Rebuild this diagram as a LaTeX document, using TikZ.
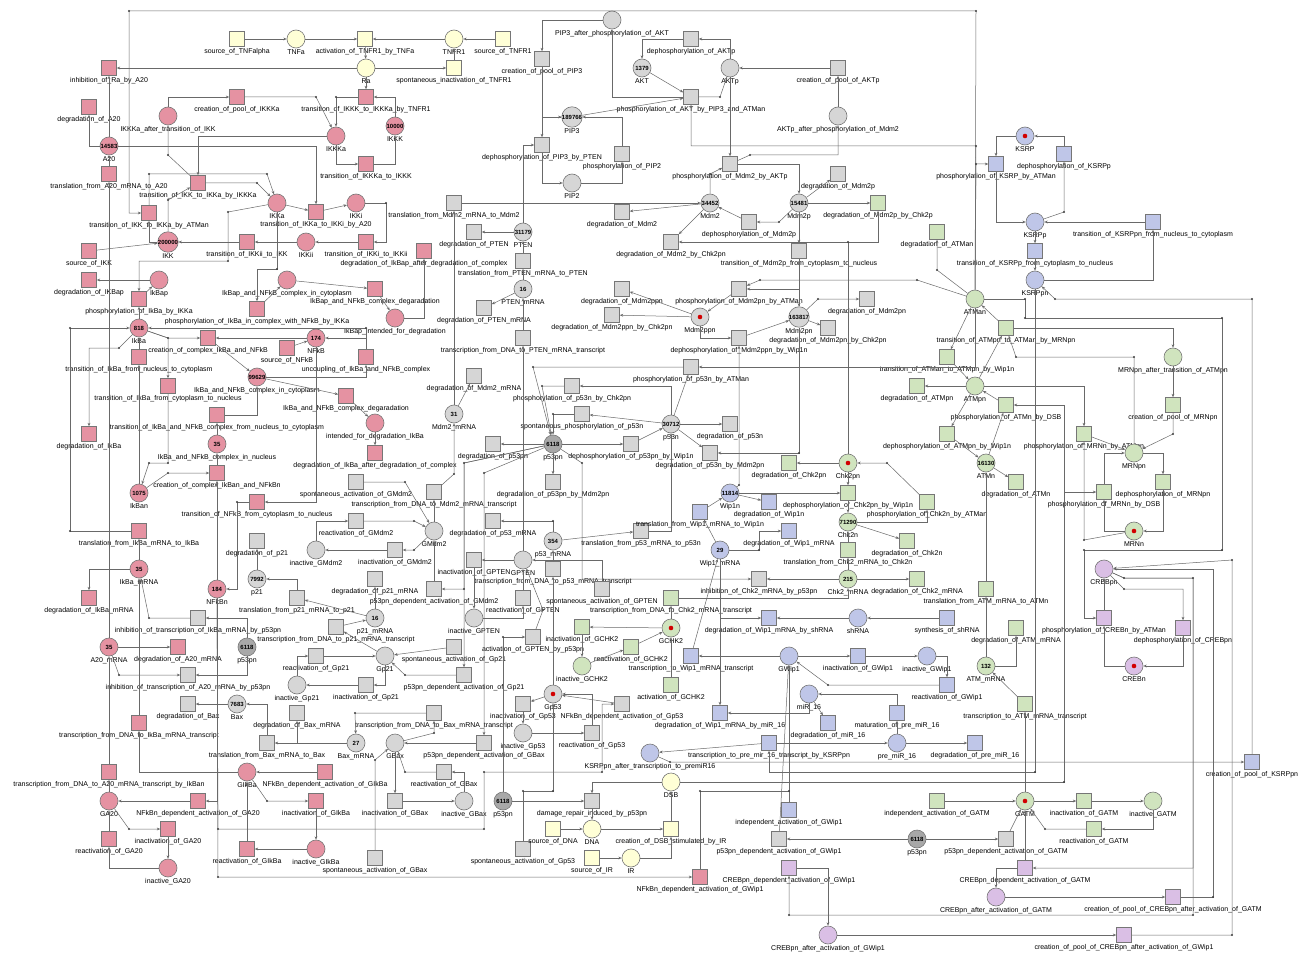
\documentclass[tikz,border=0pt]{standalone}
\usepackage{fontspec}
\setmainfont{Liberation Sans}
\usetikzlibrary{arrows.meta}
\definecolor{pinkf}{RGB}{229,146,162}
\definecolor{greyf}{RGB}{214,214,214}
\definecolor{darkf}{RGB}{168,168,168}
\definecolor{yelf}{RGB}{255,255,214}
\definecolor{greenf}{RGB}{208,228,190}
\definecolor{bluef}{RGB}{191,198,232}
\definecolor{purf}{RGB}{218,191,229}
\definecolor{edgec}{RGB}{118,118,118}
\definecolor{arcc}{RGB}{105,105,105}
\definecolor{tokred}{RGB}{210,0,0}
\newcommand{\mkplace}[6]{\node[place,fill=#4,label={[lbl]below:#5}] (#1) at (#2,#3) {#6};}
\newcommand{\mktrans}[5]{\node[trans,fill=#4,label={[lbl]below:#5}] (#1) at (#2,#3) {};}
\begin{document}
\catcode`\_=12
\begin{tikzpicture}[x=1pt,y=-1pt,
  place/.style={circle,draw=edgec,line width=0.6pt,minimum size=18pt,inner sep=0pt,font=\fontsize{6}{6}\selectfont\bfseries},
  trans/.style={rectangle,draw=edgec,line width=0.6pt,minimum size=15pt,inner sep=0pt},
  lbl/.style={font=\fontsize{7}{7}\selectfont,inner sep=1pt,text=black},
  arc/.style={draw=arcc,line width=0.5pt,-{Stealth[length=3.4pt,width=2.8pt]}}]
\useasboundingbox (0,0) rectangle (1310,955);
\fill[white] (0,0) rectangle (1310,955);

% TNF
\mktrans{srcTNF}{237}{39}{yelf}{source_of_TNFalpha}
\mkplace{TNFa}{296}{39}{yelf}{TNFa}{}
\mktrans{actTNFR}{365}{39}{yelf}{activation_of_TNFR1_by_TNFa}
\mkplace{TNFR}{454}{39}{yelf}{TNFR1}{}
\mktrans{srcTNFR}{503}{39}{yelf}{source_of_TNFR1}
\mkplace{Ra}{366}{68}{yelf}{Ra}{}
\mktrans{spinTNFR}{454}{68}{yelf}{spontaneous_inactivation_of_TNFR1}

% NFkB module
\mktrans{inhRa}{109}{68}{pinkf}{inhibition_of_Ra_by_A20}
\mktrans{degAtw}{89}{107}{pinkf}{degradation_of_A20}
\mkplace{IKKKaaft}{168}{116}{pinkf}{IKKKa_after_transition_of_IKK}{}
\mktrans{crIKKKa}{237}{97}{pinkf}{creation_of_pool_of_IKKKa}
\mktrans{trIKKK}{366}{97}{pinkf}{transition_of_IKKK_to_IKKKa_by_TNFR1}
\mkplace{IKKKa}{336}{136}{pinkf}{IKKKa}{}
\mkplace{IKKK}{395}{126}{pinkf}{IKKK}{10000}
\mktrans{trIKKKaK}{366}{164}{pinkf}{transition_of_IKKKa_to_IKKK}
\mkplace{Atw}{109}{146}{pinkf}{A20}{14583}
\mktrans{trlAtw}{109}{174}{pinkf}{translation_from_A20_mRNA_to_A20}
\mktrans{trIKKa}{198}{183}{pinkf}{transition_of_IKK_to_IKKa_by_IKKKa}
\mkplace{IKKa}{277}{203}{pinkf}{IKKa}{}
\mktrans{trATM}{149}{213}{pinkf}{transition_of_IKK_to_IKKa_by_ATMan}
\mktrans{trIKKi}{316}{212}{pinkf}{transition_of_IKKa_to_IKKi_by_A20}
\mkplace{IKKi}{356}{203}{pinkf}{IKKi}{}
\mkplace{IKK}{168}{242}{pinkf}{IKK}{200000}
\mktrans{trIKKii}{247}{242}{pinkf}{transition_of_IKKii_to_IKK}
\mkplace{IKKii}{306}{242}{pinkf}{IKKii}{}
\mktrans{trIKKiii}{366}{242}{pinkf}{transition_of_IKKi_to_IKKii}
\mktrans{srcIKK}{89}{251}{pinkf}{source_of_IKK}
\mktrans{degIkBapc}{424}{251}{pinkf}{degradation_of_IkBap_after_degradation_of_complex}
\mktrans{degIkBap}{89}{280}{pinkf}{degradation_of_IKBap}
\mkplace{IkBap}{159}{280}{pinkf}{IkBap}{}
\mktrans{phIkBa}{139}{299}{pinkf}{phosphorylation_of_IkBa_by_IKKa}
\mkplace{cxcytp}{287}{280}{pinkf}{IkBap_and_NFkB_complex_in_cytoplasm}{}
\mktrans{cxdeg}{375}{289}{pinkf}{IkBap_and_NFkB_complex_degaradation}
\mktrans{phIkBacx}{257}{309}{pinkf}{phosphorylation_of_IkBa_in_complex_with_NFkB_by_IKKa}
\mkplace{IkBapint}{395}{318}{pinkf}{IkBap_intended_for_degradation}{}
\mkplace{IkBa}{139}{328}{pinkf}{IkBa}{818}
\mktrans{crcx}{208}{338}{pinkf}{creation_of_complex_IkBa_and_NFkB}
\mkplace{NFkB}{316}{338}{pinkf}{NFkB}{174}
\mktrans{srcNFkB}{287}{348}{pinkf}{source_of_NFkB}
\mktrans{trIkBanc}{139}{357}{pinkf}{transition_of_IkBa_from_nucleus_to_cytoplasm}
\mktrans{uncpl}{366}{357}{pinkf}{uncoupling_of_IkBa_and_NFkB_complex}
\mkplace{cxcyt}{257}{377}{pinkf}{IkBa_and_NFkB_complex_in_cytoplasm}{99629}
\mktrans{trIkBacn}{168}{386}{pinkf}{transition_of_IkBa_from_cytoplasm_to_nucleus}
\mktrans{cxdegb}{346}{396}{pinkf}{IkBa_and_NFkB_complex_degaradation}
\mktrans{trcxnc}{217}{415}{pinkf}{transition_of_IkBa_and_NFkB_complex_from_nucleus_to_cytoplasm}
\mkplace{intIkBa}{375}{423}{pinkf}{intended_for_degradation_IkBa}{}
\mktrans{degIkBa}{89}{434}{pinkf}{degradation_of_IkBa}
\mkplace{cxnuc}{217}{444}{pinkf}{IkBa_and_NFkB_complex_in_nucleus}{35}
\mktrans{degIkBac}{375}{453}{pinkf}{degradation_of_IkBa_after_degradation_of_complex}
\mktrans{crcxn}{217}{473}{pinkf}{creation_of_complex_IkBan_and_NFkBn}
\mkplace{IkBan}{139}{493}{pinkf}{IkBan}{1075}
\mktrans{trNFkB}{257}{502}{pinkf}{transition_of_NFkB_from_cytoplasm_to_nucleus}
\mktrans{trlIkBa}{139}{531}{pinkf}{translation_from_IkBa_mRNA_to_IkBa}
\mkplace{IkBam}{139}{569}{pinkf}{IkBa_mRNA}{35}
\mkplace{NFkBn}{217}{589}{pinkf}{NFkBn}{184}
\mktrans{degIkBam}{89}{598}{pinkf}{degradation_of_IkBa_mRNA}
\mkplace{Atwm}{109}{647}{pinkf}{A20_mRNA}{35}
\mktrans{degAtwm}{178}{647}{pinkf}{degradation_of_A20_mRNA}
\mktrans{tscIkBa}{139}{723}{pinkf}{transcription_from_DNA_to_IkBa_mRNA_transcript}
\mktrans{tscAtw}{109}{772}{pinkf}{transcription_from_DNA_to_A20_mRNA_transcript_by_IkBan}
\mkplace{GIkBa}{247}{772}{pinkf}{GIkBa}{}
\mktrans{ndGIkBa}{325}{772}{pinkf}{NFkBn_dependent_activation_of_GIkBa}
\mkplace{GAtw}{109}{801}{pinkf}{GA20}{}
\mktrans{ndGAtw}{198}{801}{pinkf}{NFkBn_dependent_activation_of_GA20}
\mktrans{inGIkBa}{316}{801}{pinkf}{inactivation_of_GIkBa}
\mktrans{inGAtw}{168}{829}{pinkf}{inactivation_of_GA20}
\mktrans{reGAtw}{109}{839}{pinkf}{reactivation_of_GA20}
\mktrans{reGIkBa}{247}{849}{pinkf}{reactivation_of_GIkBa}
\mkplace{iaGIkBa}{316}{849}{pinkf}{inactive_GIkBa}{}
\mkplace{iaGAtw}{168}{868}{pinkf}{inactive_GA20}{}
\mktrans{ndGWip}{700}{877}{pinkf}{NFkBn_dependent_activation_of_GWip1}

% p53 / Mdm2 / AKT module
\mkplace{PIPaft}{612}{20}{greyf}{PIP3_after_phosphorylation_of_AKT}{}
\mktrans{crPIP}{542}{59}{greyf}{creation_of_pool_of_PIP3}
\mkplace{AKT}{642}{68}{greyf}{AKT}{1379}
\mkplace{PIPthree}{572}{117}{greyf}{PIP3}{189766}
\mktrans{dphPIP}{542}{145}{greyf}{dephosphorylation_of_PIP3_by_PTEN}
\mktrans{phPIP}{622}{154}{greyf}{phosphorylation_of_PIP2}
\mkplace{PIPtwo}{572}{183}{greyf}{PIP2}{}
\mktrans{trlMdm}{454}{203}{greyf}{translation_from_Mdm2_mRNA_to_Mdm2}
\mktrans{degMdm}{622}{212}{greyf}{degradation_of_Mdm2}
\mktrans{degPTEN}{474}{232}{greyf}{degradation_of_PTEN}
\mkplace{PTEN}{523}{232}{greyf}{PTEN}{31179}
\mktrans{trlPTEN}{523}{261}{greyf}{translation_from_PTEN_mRNA_to_PTEN}
\mkplace{PTENm}{523}{289}{greyf}{PTEN_mRNA}{16}
\mktrans{degPTENm}{484}{308}{greyf}{degradation_of_PTEN_mRNA}
\mktrans{degMdmppn}{622}{289}{greyf}{degradation_of_Mdm2ppn}
\mktrans{degMdmppnC}{612}{315}{greyf}{degradation_of_Mdm2ppn_by_Chk2pn}
\mktrans{dphAKTp}{691}{39}{greyf}{dephosphorylation_of_AKTp}
\mkplace{AKTp}{730}{68}{greyf}{AKTp}{}
\mktrans{crAKTp}{838}{68}{greyf}{creation_of_pool_of_AKTp}
\mktrans{phAKT}{691}{97}{greyf}{phosphorylation_of_AKT_by_PIP3_and_ATMan}
\mkplace{AKTpaft}{838}{116}{greyf}{AKTp_after_phosphorylation_of_Mdm2}{}
\mktrans{phMdm}{730}{164}{greyf}{phosphorylation_of_Mdm2_by_AKTp}
\mktrans{degMdmp}{838}{174}{greyf}{degradation_of_Mdm2p}
\mkplace{Mdm}{710}{203}{greyf}{Mdm2}{34452}
\mkplace{Mdmp}{799}{203}{greyf}{Mdm2p}{15481}
\mktrans{dphMdmp}{749}{222}{greyf}{dephosphorylation_of_Mdm2p}
\mktrans{degMdmC}{671}{242}{greyf}{degradation_of_Mdm2_by_Chk2pn}
\mktrans{trMdmp}{799}{251}{greyf}{transition_of_Mdm2p_from_cytoplasm_to_nucleus}
\mktrans{phMdmpn}{739}{289}{greyf}{phosphorylation_of_Mdm2pn_by_ATMan}
\mktrans{degMdmpn}{867}{299}{greyf}{degradation_of_Mdm2pn}
\mkplace{Mdmppn}{700}{317}{greyf}{Mdm2ppn}{}
\mkplace{Mdmpn}{799}{317}{greyf}{Mdm2pn}{163817}
\mktrans{degMdmpnC}{828}{328}{greyf}{degradation_of_Mdm2pn_by_Chk2pn}
\mktrans{dphMdmppn}{739}{338}{greyf}{dephosphorylation_of_Mdm2ppn_by_Wip1n}
\mktrans{tscPTEN}{523}{338}{greyf}{transcription_from_DNA_to_PTEN_mRNA_transcript}
\mktrans{phpA}{691}{367}{greyf}{phosphorylation_of_p53n_by_ATMan}
\mktrans{degMdmm}{474}{376}{greyf}{degradation_of_Mdm2_mRNA}
\mktrans{phpC}{572}{386}{greyf}{phosphorylation_of_p53n_by_Chk2pn}
\mkplace{Mdmm}{454}{414}{greyf}{Mdm2_mRNA}{31}
\mktrans{spphp}{582}{414}{greyf}{spontaneous_phosphorylation_of_p53n}
\mkplace{pn}{671}{424}{greyf}{p53n}{30712}
\mktrans{degpn}{730}{424}{greyf}{degradation_of_p53n}
\mktrans{degppn}{493}{444}{greyf}{degradation_of_p53pn}
\mkplace{ppn}{553}{444}{darkf}{p53pn}{6118}
\mktrans{dphppn}{631}{444}{greyf}{dephosphorylation_of_p53pn_by_Wip1n}
\mktrans{degpnM}{710}{453}{greyf}{degradation_of_p53n_by_Mdm2pn}
\mktrans{spGMdm}{356}{482}{greyf}{spontaneous_activation_of_GMdm2}
\mktrans{tscMdm}{434}{492}{greyf}{transcription_from_DNA_to_Mdm2_mRNA_transcript}
\mktrans{degppnM}{553}{482}{greyf}{degradation_of_p53pn_by_Mdm2pn}
\mktrans{reGMdm}{356}{521}{greyf}{reactivation_of_GMdm2}
\mkplace{GMdm}{434}{531}{greyf}{GMdm2}{}
\mktrans{degpm}{493}{521}{greyf}{degradation_of_p53_mRNA}
\mktrans{trlp}{641}{531}{greyf}{translation_from_p53_mRNA_to_p53n}
\mktrans{degptw}{257}{541}{greyf}{degradation_of_p21}
\mkplace{pm}{553}{541}{greyf}{p53_mRNA}{354}
\mkplace{iaGMdm}{316}{550}{greyf}{inactive_GMdm2}{}
\mktrans{inGMdm}{395}{550}{greyf}{inactivation_of_GMdm2}
\mktrans{inGPTEN}{474}{560}{greyf}{inactivation_of_GPTEN}
\mkplace{GPTEN}{523}{560}{greyf}{GPTEN}{}
\mktrans{tscp}{553}{569}{greyf}{transcription_from_DNA_to_p53_mRNA_transcript}
\mkplace{ptw}{257}{579}{greyf}{p21}{7992}
\mktrans{degptwm}{375}{579}{greyf}{degradation_of_p21_mRNA}
\mktrans{pdGMdm}{434}{589}{greyf}{p53pn_dependent_activation_of_GMdm2}
\mktrans{spGPTEN}{602}{589}{greyf}{spontaneous_activation_of_GPTEN}
\mktrans{trlptw}{297}{598}{greyf}{translation_from_p21_mRNA_to_p21}
\mktrans{reGPTEN}{523}{598}{greyf}{reactivation_of_GPTEN}
\mktrans{inhIkBa}{198}{618}{greyf}{inhibition_of_transcription_of_IkBa_mRNA_by_p53pn}
\mkplace{ptwm}{375}{618}{greyf}{p21_mRNA}{16}
\mkplace{iaGPTEN}{474}{618}{greyf}{inactive_GPTEN}{}
\mktrans{tscptw}{336}{627}{greyf}{transcription_from_DNA_to_p21_mRNA_transcript}
\mktrans{acGPTEN}{533}{637}{greyf}{activation_of_GPTEN_by_p53pn}
\mkplace{ppnA}{247}{647}{darkf}{p53pn}{6118}
\mktrans{spGptw}{454}{647}{greyf}{spontaneous_activation_of_Gp21}
\mktrans{reGptw}{316}{656}{greyf}{reactivation_of_Gp21}
\mkplace{Gptw}{385}{656}{greyf}{Gp21}{}
\mktrans{inhAtw}{188}{675}{greyf}{inhibition_of_transcription_of_A20_mRNA_by_p53pn}
\mktrans{pdGptw}{464}{675}{greyf}{p53pn_dependent_activation_of_Gp21}
\mkplace{iaGptw}{297}{685}{greyf}{inactive_Gp21}{}
\mktrans{inGptw}{366}{685}{greyf}{inactivation_of_Gp21}
\mkplace{Gp}{553}{694}{greyf}{Gp53}{}
\mktrans{degBax}{188}{704}{greyf}{degradation_of_Bax}
\mkplace{Bax}{237}{704}{greyf}{Bax}{7683}
\mktrans{inGp}{523}{704}{greyf}{inactivation_of_Gp53}
\mktrans{ndGp}{622}{704}{greyf}{NFkBn_dependent_activation_of_Gp53}
\mktrans{degBaxm}{297}{713}{greyf}{degradation_of_Bax_mRNA}
\mktrans{tscBax}{434}{713}{greyf}{transcription_from_DNA_to_Bax_mRNA_transcript}
\mkplace{iaGp}{523}{733}{greyf}{inactive_Gp53}{}
\mktrans{reGp}{592}{733}{greyf}{reactivation_of_Gp53}
\mktrans{trlBax}{267}{743}{greyf}{translation_from_Bax_mRNA_to_Bax}
\mkplace{Baxm}{356}{743}{greyf}{Bax_mRNA}{27}
\mkplace{GBax}{395}{743}{greyf}{GBax}{}
\mktrans{pdGBax}{484}{743}{greyf}{p53pn_dependent_activation_of_GBax}
\mktrans{reGBax}{444}{772}{greyf}{reactivation_of_GBax}
\mktrans{inGBax}{395}{801}{greyf}{inactivation_of_GBax}
\mkplace{iaGBax}{464}{801}{greyf}{inactive_GBax}{}
\mkplace{ppnB}{503}{801}{darkf}{p53pn}{6118}
\mktrans{dmgrep}{592}{801}{greyf}{damage_repair_induced_by_p53pn}
\mktrans{spGp}{523}{849}{greyf}{spontaneous_activation_of_Gp53}
\mktrans{spGBax}{375}{858}{greyf}{spontaneous_activation_of_GBax}
\mktrans{pdGWip}{779}{839}{greyf}{p53pn_dependent_activation_of_GWip1}
\mkplace{ppnC}{917}{839}{darkf}{p53pn}{6118}
\mktrans{pdGATM}{1006}{839}{greyf}{p53pn_dependent_activation_of_GATM}
\mktrans{inhChk}{759}{579}{greyf}{inhibition_of_Chk2_mRNA_by_p53pn}

% DNA damage
\mktrans{srcDNA}{553}{829}{yelf}{source_of_DNA}
\mkplace{DNA}{592}{829}{yelf}{DNA}{}
\mktrans{srcIR}{592}{858}{yelf}{source_of_IR}
\mkplace{IR}{631}{858}{yelf}{IR}{}
\mkplace{DSB}{671}{782}{yelf}{DSB}{}
\mktrans{crDSB}{671}{829}{yelf}{creation_of_DSB_stimulated_by_IR}

% ATM / Chk2 / MRN
\mktrans{degATMan}{937}{232}{greenf}{degradation_of_ATMan}
\mkplace{ATMan}{975}{299}{greenf}{ATMan}{}
\mktrans{degMdmpC}{878}{203}{greenf}{degradation_of_Mdm2p_by_Chk2p}
\mktrans{trATMpn}{1006}{328}{greenf}{transition_of_ATMpn_to_ATMan_by_MRNpn}
\mktrans{trATMan}{947}{357}{greenf}{transition_of_ATMan_to_ATMpn_by_Wip1n}
\mkplace{MRNaft}{1173}{357}{greenf}{MRNpn_after_transition_of_ATMpn}{}
\mktrans{degATMpn}{917}{386}{greenf}{degradation_of_ATMpn}
\mkplace{ATMpn}{975}{386}{greenf}{ATMpn}{}
\mktrans{phATMn}{1006}{405}{greenf}{phosphorylation_of_ATMn_by_DSB}
\mktrans{crMRN}{1173}{405}{greenf}{creation_of_pool_of_MRNpn}
\mktrans{dphATMpn}{947}{434}{greenf}{dephosphorylation_of_ATMpn_by_Wip1n}
\mktrans{phMRNA}{1084}{434}{greenf}{phosphorylation_of_MRNn_by_ATMpn}
\mkplace{MRNpn}{1134}{453}{greenf}{MRNpn}{}
\mktrans{degChkpn}{789}{463}{greenf}{degradation_of_Chk2pn}
\mkplace{Chkpn}{848}{463}{greenf}{Chk2pn}{}
\mkplace{ATMn}{986}{463}{greenf}{ATMn}{16130}
\mktrans{degATMn}{1016}{482}{greenf}{degradation_of_ATMn}
\mktrans{dphMRN}{1163}{482}{greenf}{dephosphorylation_of_MRNpn}
\mktrans{dphChkpn}{848}{493}{greenf}{dephosphorylation_of_Chk2pn_by_Wip1n}
\mktrans{phMRND}{1104}{492}{greenf}{phosphorylation_of_MRNn_by_DSB}
\mktrans{phChkn}{927}{502}{greenf}{phosphorylation_of_Chk2n_by_ATMan}
\mkplace{Chkn}{848}{522}{greenf}{Chk2n}{71290}
\mkplace{MRNn}{1134}{531}{greenf}{MRNn}{}
\mktrans{degChkn}{907}{541}{greenf}{degradation_of_Chk2n}
\mktrans{trlChk}{848}{550}{greenf}{translation_from_Chk2_mRNA_to_Chk2n}
\mkplace{Chkm}{848}{579}{greenf}{Chk2_mRNA}{215}
\mktrans{degChkm}{917}{579}{greenf}{degradation_of_Chk2_mRNA}
\mktrans{trlATM}{986}{589}{greenf}{translation_from_ATM_mRNA_to_ATMn}
\mktrans{tscChk}{671}{598}{greenf}{transcription_from_DNA_to_Chk2_mRNA_transcript}
\mktrans{inGCHK}{582}{627}{greenf}{inactivation_of_GCHK2}
\mktrans{degATMm}{1016}{628}{greenf}{degradation_of_ATM_mRNA}
\mkplace{GCHK}{671}{628}{greenf}{GCHK2}{}
\mktrans{reGCHK}{631}{647}{greenf}{reactivation_of_GCHK2}
\mkplace{iaGCHK}{582}{666}{greenf}{inactive_GCHK2}{}
\mkplace{ATMm}{986}{666}{greenf}{ATM_mRNA}{132}
\mktrans{acGCHK}{671}{685}{greenf}{activation_of_GCHK2}
\mktrans{tscATM}{1025}{704}{greenf}{transcription_to_ATM_mRNA_transcript}
\mktrans{indGATM}{937}{801}{greenf}{independent_activation_of_GATM}
\mkplace{GATM}{1025}{801}{greenf}{GATM}{}
\mktrans{inGATM}{1084}{801}{greenf}{inactivation_of_GATM}
\mkplace{iaGATM}{1153}{801}{greenf}{inactive_GATM}{}
\mktrans{reGATM}{1094}{829}{greenf}{reactivation_of_GATM}

% KSRP / Wip1 / miR-16
\mkplace{KSRP}{1025}{136}{bluef}{KSRP}{}
\mktrans{dphKSRPp}{1064}{154}{bluef}{dephosphorylation_of_KSRPp}
\mktrans{phKSRP}{996}{164}{bluef}{phosphorylation_of_KSRP_by_ATMan}
\mkplace{KSRPp}{1035}{222}{bluef}{KSRPp}{}
\mktrans{trKSRPpn}{1153}{222}{bluef}{transition_of_KSRPpn_from_nucleus_to_cytoplasm}
\mktrans{trKSRPp}{1035}{251}{bluef}{transition_of_KSRPp_from_cytoplasm_to_nucleus}
\mkplace{KSRPpn}{1035}{280}{bluef}{KSRPpn}{}
\mkplace{Wipn}{730}{493}{bluef}{Wip1n}{11814}
\mktrans{degWipn}{769}{502}{bluef}{degradation_of_Wip1n}
\mktrans{trlWip}{700}{512}{bluef}{translation_from_Wip1_mRNA_to_Wip1n}
\mktrans{degWipm}{789}{531}{bluef}{degradation_of_Wip1_mRNA}
\mkplace{Wipm}{720}{550}{bluef}{Wip1_mRNA}{29}
\mktrans{degWsh}{769}{618}{bluef}{degradation_of_Wip1_mRNA_by_shRNA}
\mkplace{shRNA}{858}{618}{bluef}{shRNA}{}
\mktrans{synsh}{947}{618}{bluef}{synthesis_of_shRNA}
\mktrans{tscWip}{691}{656}{bluef}{transcription_to_Wip1_mRNA_transcript}
\mkplace{GWip}{789}{656}{bluef}{GWip1}{}
\mktrans{inGWip}{858}{656}{bluef}{inactivation_of_GWip1}
\mkplace{iaGWip}{927}{656}{bluef}{inactive_GWip1}{}
\mktrans{reGWip}{947}{685}{bluef}{reactivation_of_GWip1}
\mkplace{miR}{809}{694}{bluef}{miR_16}{}
\mktrans{degWmiR}{720}{713}{bluef}{degradation_of_Wip1_mRNA_by_miR_16}
\mktrans{matmiR}{897}{713}{bluef}{maturation_of_pre_miR_16}
\mktrans{degmiR}{828}{723}{bluef}{degradation_of_miR_16}
\mktrans{tscpre}{769}{743}{bluef}{transcription_to_pre_mir_16_transcript_by_KSRPpn}
\mkplace{premiR}{897}{743}{bluef}{pre_miR_16}{}
\mktrans{degpre}{975}{743}{bluef}{degradation_of_pre_miR_16}
\mkplace{KSRPaft}{650}{753}{bluef}{KSRPpn_after_transcription_to_premiR16}{}
\mktrans{crKSRPpn}{1252}{762}{bluef}{creation_of_pool_of_KSRPpn}
\mktrans{indGWip}{789}{810}{bluef}{independent_activation_of_GWip1}

% CREB
\mkplace{CREBpn}{1104}{569}{purf}{CREBpn}{}
\mktrans{phCREBn}{1104}{618}{purf}{phosphorylation_of_CREBn_by_ATMan}
\mktrans{dphCREBpn}{1183}{628}{purf}{dephosphorylation_of_CREBpn}
\mkplace{CREBn}{1134}{666}{purf}{CREBn}{}
\mktrans{cdGWip}{789}{868}{purf}{CREBpn_dependent_activation_of_GWip1}
\mktrans{cdGATM}{1025}{868}{purf}{CREBpn_dependent_activation_of_GATM}
\mkplace{CREBaftA}{996}{897}{purf}{CREBpn_after_activation_of_GATM}{}
\mktrans{crCREBA}{1173}{897}{purf}{creation_of_pool_of_CREBpn_after_activation_of_GATM}
\mkplace{CREBaftW}{828}{935}{purf}{CREBpn_after_activation_of_GWip1}{}
\mktrans{crCREBW}{1124}{935}{purf}{creation_of_pool_of_CREBpn_after_activation_of_GWip1}

\foreach \n in {KSRP,Mdmppn,Chkpn,MRNn,GCHK,Gp,CREBn,GATM}
  \fill[tokred] (\n) circle (2.3pt);

% arcs: TNF and IKK
\draw[arc] (srcTNF) -- (TNFa);
\draw[arc] (TNFa) -- (actTNFR);
\draw[arc] (TNFR) -- (actTNFR);
\draw[arc] (srcTNFR) -- (TNFR);
\draw[arc] (actTNFR) -- (Ra);
\draw[arc] (Ra) -- (spinTNFR);
\draw[arc] (spinTNFR) -- (TNFR);
\draw[arc] (Ra) -- (inhRa);
\draw[arc] (Ra) -- (trIKKK);
\draw[arc] (Atw) -- (inhRa);
\draw[arc] (Atw) -| (degAtw);
\draw[arc] (trlAtw) -- (Atw);
\draw[arc] (Atw) -| (trIKKi);
\draw[arc] (IKKKaaft) |- (crIKKKa);
\draw[arc] (crIKKKa) -- (316,97) -- (IKKKa);
\draw[arc] (trIKKa) -- (168,155) -- (IKKKaaft);
\draw[arc] (IKKKa) -| (trIKKa);
\draw[arc] (trIKKa) -- (257,183) -- (IKKa);
\draw[arc] (IKK) -- (168,200) -- (trIKKa);
\draw[arc] (trATM) -- (149,174) -- (267,174) -- (IKKa);
\draw[arc] (IKK) -| (trATM);
\draw[arc] (srcIKK) -- (IKK);
\draw[arc] (trIKKii) -- (IKK);
\draw[arc] (IKKii) -- (trIKKii);
\draw[arc] (IKKa) -- (trIKKi);
\draw[arc] (trIKKi) -- (IKKi);
\draw[arc] (IKKi) -- (386,203) |- (trIKKiii);
\draw[arc] (trIKKiii) -- (IKKii);
\draw[arc] (IKKa) -- (228,212) -- (228,261) -| (phIkBa);
\draw[arc] (IKKa) -- (277,269) -| (phIkBacx);
\draw[arc] (phIkBacx) -- (cxcytp);
\draw[arc] (IkBap) -- (degIkBap);
\draw[arc] (phIkBa) -- (IkBap);
\draw[arc] (IkBa) -- (phIkBa);
\draw[arc] (trIKKK) -- (336,97) -- (IKKKa);
\draw[arc] (IKKK) |- (trIKKK);
\draw[arc] (IKKKa) |- (trIKKKaK);
\draw[arc] (trIKKKaK) -| (IKKK);
\draw[arc] (ATMan) -- (976,11) -- (129,11) |- (trATM);
\draw[arc] (ATMan) -- (976,146) -| (phAKT);
\draw[arc] (ATMan) -- (976,164) -- (phKSRP);

% arcs: IkBa and NFkB
\draw[arc] (trlIkBa) -- (70,531) -- (70,328) -- (IkBa);
\draw[arc] (IkBa) -- (119,348) -| (degIkBa);
\draw[arc] (trIkBanc) -- (IkBa);
\draw[arc] (IkBan) -- (trIkBanc);
\draw[arc] (IkBa) -- (168,338) -- (crcx);
\draw[arc] (IkBa) -- (168,338) -- (trIkBacn);
\draw[arc] (trIkBacn) -- (168,463) -- (149,463) -- (IkBan);
\draw[arc] (IkBan) -- (168,473) -- (crcxn);
\draw[arc] (NFkB) -- (crcx);
\draw[arc] (srcNFkB) -- (NFkB);
\draw[arc] (crcx) -- (cxcyt);
\draw[arc] (cxcyt) -- (cxdegb);
\draw[arc] (cxcyt) -| (uncpl);
\draw[arc] (uncpl) |- (NFkB);
\draw[arc] (uncpl) -- (366,328) -- (IkBa);
\draw[arc] (trcxnc) -| (cxcyt);
\draw[arc] (cxnuc) -- (trcxnc);
\draw[arc] (crcxn) -- (cxnuc);
\draw[arc] (NFkBn) -- (crcxn);
\draw[arc] (trNFkB) -- (237,502) |- (NFkBn);
\draw[arc] (NFkB) |- (trNFkB);
\draw[arc] (cxcytp) -- (cxdeg);
\draw[arc] (cxdeg) -- (IkBapint);
\draw[arc] (IkBapint) -| (degIkBapc);
\draw[arc] (cxdegb) -- (intIkBa);
\draw[arc] (intIkBa) -- (degIkBac);
\draw[arc] (IkBam) -- (trlIkBa);
\draw[arc] (IkBam) -| (degIkBam);
\draw[arc] (inhIkBa) -- (149,618) -- (IkBam);
\draw[arc] (ppnA) |- (inhIkBa);
\draw[arc] (ptw) -- (degptw);
\draw[arc] (trlptw) |- (ptw);
\draw[arc] (ptwm) -- (trlptw);
\draw[arc] (ptwm) -- (degptwm);
\draw[arc] (tscptw) -- (ptwm);
\draw[arc] (Gptw) -- (tscptw);

% arcs: Mdm2, PTEN, AKT
\draw[arc] (PIPaft) -| (crPIP);
\draw[arc] (crPIP) |- (PIPthree);
\draw[arc] (PIPthree) -| (dphPIP);
\draw[arc] (dphPIP) |- (PIPtwo);
\draw[arc] (PIPtwo) -| (phPIP);
\draw[arc] (phPIP) |- (PIPthree);
\draw[arc] (PTEN) |- (dphPIP);
\draw[arc] (PIPthree) -- (phAKT);
\draw[arc] (AKT) -- (phAKT);
\draw[arc] (phAKT) -- (720,97) -- (AKTp);
\draw[arc] (phAKT) -| (PIPaft);
\draw[arc] (AKTp) |- (dphAKTp);
\draw[arc] (dphAKTp) -| (AKT);
\draw[arc] (crAKTp) -- (AKTp);
\draw[arc] (AKTpaft) -- (crAKTp);
\draw[arc] (AKTp) -- (phMdm);
\draw[arc] (phMdm) -- (750,155) -| (AKTpaft);
\draw[arc] (phMdm) -| (Mdmp);
\draw[arc] (Mdm) -- (710,174) -- (phMdm);
\draw[arc] (Mdmp) -- (degMdmp);
\draw[arc] (Mdmp) -- (degMdmpC);
\draw[arc] (Mdmp) -- (779,222) -- (dphMdmp);
\draw[arc] (dphMdmp) -- (Mdm);
\draw[arc] (Mdm) -- (degMdmC);
\draw[arc] (Mdm) -- (degMdm);
\draw[arc] (Chkpn) -- (848,242) -- (degMdmC);
\draw[arc] (Chkpn) -- (848,242) -| (degMdmpC);
\draw[arc] (trlMdm) -- (Mdm);
\draw[arc] (Mdmm) -- (trlMdm);
\draw[arc] (Mdmp) -- (trMdmp);
\draw[arc] (trMdmp) -- (Mdmpn);
\draw[arc] (ATMan) -- (937,270) -- (degATMan);
\draw[arc] (ATMan) -- (917,280) -- (760,280) -- (phMdmpn);
\draw[arc] (Mdmpn) |- (phMdmpn);
\draw[arc] (phMdmpn) -- (Mdmppn);
\draw[arc] (Mdmpn) -- (818,299) -- (degMdmpn);
\draw[arc] (Mdmppn) -- (degMdmppn);
\draw[arc] (Mdmppn) -- (degMdmppnC);
\draw[arc] (Mdmppn) |- (dphMdmppn);
\draw[arc] (dphMdmppn) -- (Mdmpn);
\draw[arc] (Mdmpn) -- (degMdmpnC);
\draw[arc] (Wipn) -- (739,485) -- (dphMdmppn);
\draw[arc] (Mdmm) -- (degMdmm);
\draw[arc] (tscMdm) -- (454,474) -- (Mdmm);
\draw[arc] (GMdm) -- (tscMdm);
\draw[arc] (spGMdm) -- (405,482) -- (GMdm);
\draw[arc] (iaGMdm) |- (reGMdm);
\draw[arc] (reGMdm) -- (414,521) -- (GMdm);
\draw[arc] (GMdm) -- (414,550) -- (inGMdm);
\draw[arc] (inGMdm) -- (iaGMdm);
\draw[arc] (pdGMdm) -- (GMdm);
\draw[arc] (ppn) -- (464,463) -- (464,589) -- (pdGMdm);
\draw[arc] (ppn) -- (464,463) -- (pdGptw);
\draw[arc] (ppn) -- (484,473) -- (pdGBax);
\draw[arc] (ppn) -- (degppn);
\draw[arc] (ppn) -- (dphppn);
\draw[arc] (dphppn) -- (pn);
\draw[arc] (ppn) -- (degppnM);
\draw[arc] (phpC) -- (542,386) -- (ppn);
\draw[arc] (spphp) -- (553,414) -- (ppn);
\draw[arc] (pn) -- (spphp);
\draw[arc] (pn) |- (phpC);
\draw[arc] (phpA) -- (533,367) -- (ppn);
\draw[arc] (pn) -- (phpA);
\draw[arc] (pm) -- (553,521) -- (degpm);
\draw[arc] (pm) -- (trlp);
\draw[arc] (trlp) -| (pn);
\draw[arc] (tscp) -- (pm);
\draw[arc] (GPTEN) -- (tscPTEN);
\draw[arc] (tscPTEN) -- (PTENm);
\draw[arc] (PTENm) -- (trlPTEN);
\draw[arc] (trlPTEN) -- (PTEN);
\draw[arc] (PTEN) -- (degPTEN);
\draw[arc] (PTENm) -- (degPTENm);
\draw[arc] (GPTEN) -- (inGPTEN);
\draw[arc] (inGPTEN) -- (iaGPTEN);
\draw[arc] (iaGPTEN) -| (reGPTEN);
\draw[arc] (reGPTEN) -- (GPTEN);
\draw[arc] (spGPTEN) |- (GPTEN);
\draw[arc] (acGPTEN) -- (543,610) -- (GPTEN);
\draw[arc] (ppnB) -- (503,637) -- (acGPTEN);
\draw[arc] (Mdmpn) -- (799,453) -- (degpnM);
\draw[arc] (pn) -- (degpn);
\draw[arc] (pn) -- (degpnM);
\draw[arc] (ppn) -- (582,463) |- (inhChk);
\draw[arc] (ATMan) |- (phpA);

% arcs: Chk2, Wip1
\draw[arc] (Chkpn) -- (degChkpn);
\draw[arc] (Chkpn) -- (dphChkpn);
\draw[arc] (dphChkpn) -- (Chkn);
\draw[arc] (Wipn) -- (dphChkpn);
\draw[arc] (Chkn) -| (phChkn);
\draw[arc] (phChkn) -- (887,463) -- (Chkpn);
\draw[arc] (Chkn) -- (degChkn);
\draw[arc] (trlChk) -- (Chkn);
\draw[arc] (Chkm) -- (trlChk);
\draw[arc] (Chkm) -- (degChkm);
\draw[arc] (Chkm) -- (inhChk);
\draw[arc] (Wipn) -- (degWipn);
\draw[arc] (trlWip) -- (Wipn);
\draw[arc] (Wipm) -- (trlWip);
\draw[arc] (Wipm) -- (759,550) |- (degWipm);
\draw[arc] (tscWip) -- (Wipm);
\draw[arc] (tscChk) -| (Chkm);
\draw[arc] (GCHK) -- (tscChk);
\draw[arc] (Wipm) |- (degWsh);
\draw[arc] (shRNA) -- (degWsh);
\draw[arc] (synsh) -- (shRNA);
\draw[arc] (Wipm) -- (degWmiR);
\draw[arc] (GCHK) -- (inGCHK);
\draw[arc] (inGCHK) -- (iaGCHK);
\draw[arc] (iaGCHK) -- (reGCHK);
\draw[arc] (reGCHK) -- (GCHK);
\draw[arc] (acGCHK) -- (GCHK);

% arcs: ATM and MRN
\draw[arc] (trATMpn) -| (MRNaft);
\draw[arc] (trATMpn) -- (ATMan);
\draw[arc] (ATMpn) -- (trATMpn);
\draw[arc] (MRNpn) -- (1134,357) -- (1016,357) -- (trATMpn);
\draw[arc] (MRNaft) -- (crMRN);
\draw[arc] (crMRN) -- (1173,434) -- (MRNpn);
\draw[arc] (ATMpn) -| (phMRNA);
\draw[arc] (phMRNA) -- (MRNpn);
\draw[arc] (MRNn) -- (1084,540) -- (phMRNA);
\draw[arc] (phATMn) -- (ATMpn);
\draw[arc] (ATMn) -- (phATMn);
\draw[arc] (DSB) -- (1064,782) |- (phATMn);
\draw[arc] (DSB) -- (1064,782) |- (phMRND);
\draw[arc] (ATMan) -- (trATMan);
\draw[arc] (trATMan) -- (ATMpn);
\draw[arc] (ATMpn) -- (degATMpn);
\draw[arc] (ATMpn) -- (dphATMpn);
\draw[arc] (dphATMpn) -- (ATMn);
\draw[arc] (ATMn) -- (degATMn);
\draw[arc] (MRNpn) -| (dphMRN);
\draw[arc] (dphMRN) |- (MRNn);
\draw[arc] (phMRND) |- (MRNpn);
\draw[arc] (MRNn) -| (phMRND);
\draw[arc] (trlATM) -- (ATMn);
\draw[arc] (ATMm) -- (trlATM);
\draw[arc] (ATMm) -| (degATMm);
\draw[arc] (tscATM) -- (ATMm);
\draw[arc] (GATM) -- (tscATM);

% arcs: KSRP
\draw[arc] (KSRP) -| (phKSRP);
\draw[arc] (phKSRP) |- (KSRPp);
\draw[arc] (KSRPp) -- (1064,212) -- (dphKSRPp);
\draw[arc] (dphKSRPp) |- (KSRP);
\draw[arc] (KSRPp) -- (trKSRPp);
\draw[arc] (trKSRPp) -- (KSRPpn);
\draw[arc] (KSRPpn) -| (trKSRPpn);
\draw[arc] (trKSRPpn) -- (KSRPp);
\draw[arc] (crKSRPpn) -- (1252,299) -- (1055,299) -- (KSRPpn);
\draw[arc] (KSRPpn) -- (1035,772) -| (tscpre);
\draw[arc] (ATMan) -- (1025,299) -- (1025,318) -- (1222,318) -- (1222,550) -- (1084,550) |- (phCREBn);

% arcs: A20, IkBa genes
\draw[arc] (Atwm) -- (trlAtw);
\draw[arc] (Atwm) -- (degAtwm);
\draw[arc] (Atwm) -- (119,675) -- (inhAtw);
\draw[arc] (ppnA) |- (inhAtw);
\draw[arc] (tscAtw) -- (Atwm);
\draw[arc] (GAtw) -- (tscAtw);
\draw[arc] (tscIkBa) -- (IkBam);
\draw[arc] (GIkBa) -| (tscIkBa);
\draw[arc] (ndGAtw) -- (GAtw);
\draw[arc] (NFkBn) |- (ndGAtw);
\draw[arc] (GAtw) -- (129,829) -- (inGAtw);
\draw[arc] (inGAtw) -- (iaGAtw);
\draw[arc] (iaGAtw) -| (reGAtw);
\draw[arc] (reGAtw) -- (GAtw);
\draw[arc] (ndGIkBa) -- (GIkBa);
\draw[arc] (GIkBa) -- (267,801) -- (inGIkBa);
\draw[arc] (inGIkBa) -- (iaGIkBa);
\draw[arc] (iaGIkBa) -- (reGIkBa);
\draw[arc] (reGIkBa) -- (GIkBa);
\draw[arc] (NFkBn) -- (218,877) -- (ndGWip);
\draw[arc] (NFkBn) -- (218,829) -- (484,829) -- (484,772) -- (602,772) |- (ndGp);

% arcs: p21, Bax, Gp53 genes
\draw[arc] (Bax) -- (degBax);
\draw[arc] (trlBax) |- (Bax);
\draw[arc] (Baxm) -- (trlBax);
\draw[arc] (Baxm) -| (degBaxm);
\draw[arc] (tscBax) -- (355,713) -- (Baxm);
\draw[arc] (GBax) -- (434,733) -- (tscBax);
\draw[arc] (pdGBax) -- (GBax);
\draw[arc] (reGBax) -- (405,772) -- (GBax);
\draw[arc] (iaGBax) |- (reGBax);
\draw[arc] (GBax) -- (inGBax);
\draw[arc] (inGBax) -- (iaGBax);
\draw[arc] (spGBax) -- (375,760) -- (GBax);
\draw[arc] (iaGptw) |- (reGptw);
\draw[arc] (reGptw) -- (Gptw);
\draw[arc] (Gptw) |- (inGptw);
\draw[arc] (inGptw) -- (iaGptw);
\draw[arc] (spGptw) -- (Gptw);
\draw[arc] (pdGptw) -- (405,675) -- (Gptw);
\draw[arc] (ppnB) -- (dmgrep);
\draw[arc] (DSB) -| (dmgrep);
\draw[arc] (dmgrep) -- (DNA);
\draw[arc] (srcDNA) -- (DNA);
\draw[arc] (DNA) -- (crDSB);
\draw[arc] (srcIR) -- (IR);
\draw[arc] (IR) -| (crDSB);
\draw[arc] (crDSB) -- (DSB);
\draw[arc] (Gp) -- (inGp);
\draw[arc] (inGp) -- (iaGp);
\draw[arc] (iaGp) -- (reGp);
\draw[arc] (reGp) |- (Gp);
\draw[arc] (ndGp) -- (Gp);
\draw[arc] (spGp) -- (523,791) -- (553,791) -- (Gp);
\draw[arc] (Gp) -- (tscp);

% arcs: miR-16, GWip1, GATM, CREB
\draw[arc] (tscpre) -- (KSRPaft);
\draw[arc] (tscpre) -- (premiR);
\draw[arc] (premiR) -- (degpre);
\draw[arc] (premiR) -- (matmiR);
\draw[arc] (matmiR) |- (miR);
\draw[arc] (miR) -- (degmiR);
\draw[arc] (miR) |- (degWmiR);
\draw[arc] (GWip) -- (tscWip);
\draw[arc] (GWip) -- (inGWip);
\draw[arc] (inGWip) -- (iaGWip);
\draw[arc] (iaGWip) -| (reGWip);
\draw[arc] (reGWip) -- (828,685) -- (GWip);
\draw[arc] (indGWip) -- (GWip);
\draw[arc] (pdGWip) -- (GWip);
\draw[arc] (ndGWip) -- (700,791) -- (789,791) -- (GWip);
\draw[arc] (ppnC) -- (pdGWip);
\draw[arc] (ppnC) -- (pdGATM);
\draw[arc] (indGATM) -- (GATM);
\draw[arc] (pdGATM) -- (GATM);
\draw[arc] (cdGATM) -- (GATM);
\draw[arc] (GATM) -- (inGATM);
\draw[arc] (inGATM) -- (iaGATM);
\draw[arc] (iaGATM) |- (reGATM);
\draw[arc] (reGATM) -- (1045,829) -- (GATM);
\draw[arc] (cdGATM) -| (CREBaftA);
\draw[arc] (CREBaftA) -- (crCREBA);
\draw[arc] (crCREBA) -- (1213,897) |- (CREBpn);
\draw[arc] (CREBpn) -- (1124,578) -- (1193,578) |- (cdGATM);
\draw[arc] (CREBpn) -- (1124,578) -- (1193,578) -- (1193,915) -- (789,915) -- (cdGWip);
\draw[arc] (cdGWip) -| (CREBaftW);
\draw[arc] (CREBaftW) -- (crCREBW);
\draw[arc] (crCREBW) -- (1232,935) -- (1232,560) -- (CREBpn);
\draw[arc] (KSRPaft) -- (670,762) -- (crKSRPpn);
\draw[arc] (phCREBn) -- (CREBpn);
\draw[arc] (CREBn) -| (phCREBn);
\draw[arc] (CREBpn) -- (1124,589) -| (dphCREBpn);
\draw[arc] (dphCREBpn) |- (CREBn);

% bend points
\foreach \x/\y in {316/97,168/155,257/183,168/200,149/174,267/174,386/203,228/212,228/261,277/269,336/97,976/11,129/11,976/146,976/164,
  70/531,70/328,119/348,168/338,168/463,149/463,168/473,366/328,237/502,149/618,720/97,750/155,710/174,779/222,848/242,937/270,917/280,760/280,
  818/299,739/485,454/474,405/482,414/521,414/550,464/463,464/589,484/473,542/386,553/414,533/367,553/521,543/610,503/637,799/453,582/463,
  887/463,759/550,1134/357,1016/357,1173/434,1084/540,1064/782,1064/212,1252/299,1055/299,1035/772,1025/299,1025/318,1222/318,1222/550,
  1084/550,119/675,129/829,267/801,218/877,218/829,484/829,484/772,602/772,355/713,434/733,405/772,375/760,405/675,523/791,553/791,
  828/685,700/791,789/791,1045/829,1213/897,1124/578,1193/578,1193/915,789/915,1232/935,1232/560,670/762,1124/589}
  \fill[black!75] (\x,\y) circle (1.2pt);
\end{tikzpicture}
\end{document}
